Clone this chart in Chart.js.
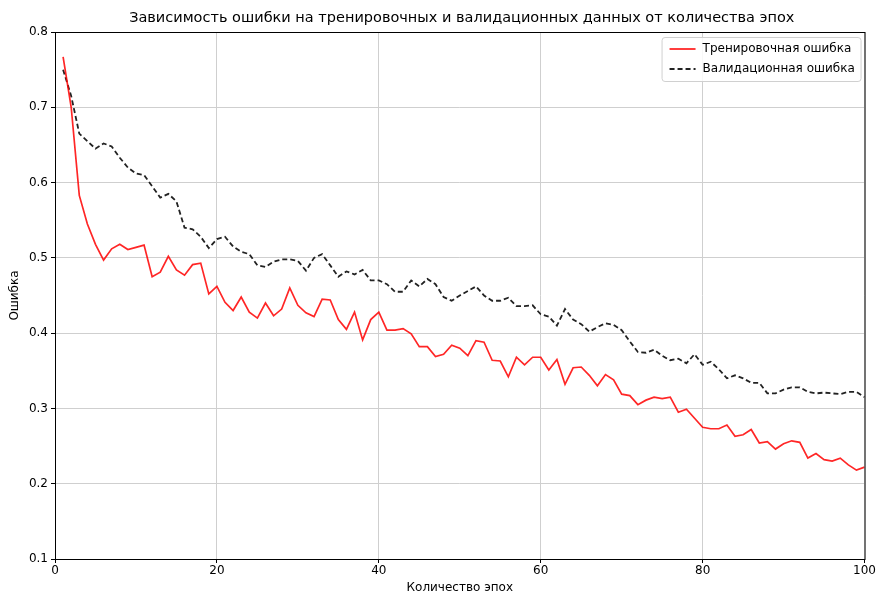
<!DOCTYPE html>
<html>
<head>
<meta charset="utf-8">
<script src="https://cdn.jsdelivr.net/npm/chart.js@4.4.0/dist/chart.umd.min.js"></script>
<style>
  html, body { margin: 0; padding: 0; background: #fff; }
  #wrap { width: 877px; height: 595px; position: relative; }
</style>
</head>
<body>
<div id="wrap"><canvas id="lossChart"></canvas></div>
<script>
// данные
const epochs = [];
for (let i = 1; i <= 100; i++) epochs.push(i);

const trainLoss = [
  0.767, 0.700, 0.583, 0.545, 0.518, 0.497, 0.512, 0.518, 0.511, 0.514,
  0.517, 0.475, 0.481, 0.502, 0.484, 0.477, 0.491, 0.493, 0.452, 0.462,
  0.441, 0.430, 0.448, 0.428, 0.420, 0.440, 0.423, 0.432, 0.460, 0.437,
  0.427, 0.422, 0.445, 0.444, 0.418, 0.405, 0.428, 0.391, 0.418, 0.428,
  0.404, 0.404, 0.406, 0.399, 0.382, 0.382, 0.369, 0.372, 0.384, 0.380,
  0.370, 0.390, 0.388, 0.364, 0.363, 0.342, 0.368, 0.358, 0.368, 0.368,
  0.351, 0.365, 0.332, 0.354, 0.355, 0.344, 0.330, 0.345, 0.338, 0.319,
  0.317, 0.305, 0.311, 0.315, 0.313, 0.315, 0.295, 0.299, 0.287, 0.275,
  0.273, 0.273, 0.278, 0.263, 0.265, 0.272, 0.254, 0.256, 0.246, 0.253,
  0.257, 0.255, 0.234, 0.240, 0.232, 0.230, 0.234, 0.225, 0.218, 0.222
];

const valLoss = [
  0.750, 0.715, 0.665, 0.655, 0.645, 0.652, 0.648, 0.633, 0.620, 0.612,
  0.610, 0.595, 0.580, 0.585, 0.575, 0.540, 0.538, 0.528, 0.513, 0.525,
  0.528, 0.515, 0.508, 0.505, 0.490, 0.488, 0.495, 0.498, 0.498, 0.496,
  0.483, 0.500, 0.505, 0.490, 0.475, 0.482, 0.478, 0.484, 0.470, 0.470,
  0.465, 0.455, 0.455, 0.470, 0.462, 0.472, 0.465, 0.448, 0.443, 0.450,
  0.456, 0.462, 0.450, 0.443, 0.443, 0.447, 0.436, 0.436, 0.437, 0.425,
  0.422, 0.410, 0.432, 0.418, 0.412, 0.402, 0.408, 0.413, 0.411, 0.404,
  0.389, 0.375, 0.374, 0.378, 0.370, 0.364, 0.366, 0.360, 0.372, 0.358,
  0.362, 0.352, 0.340, 0.344, 0.340, 0.334, 0.334, 0.320, 0.320, 0.325,
  0.328, 0.328, 0.322, 0.320, 0.321, 0.320, 0.319, 0.322, 0.322, 0.315
];

const xTicks = [0, 20, 40, 60, 80, 100];
const yTicks = [0.1, 0.2, 0.3, 0.4, 0.5, 0.6, 0.7, 0.8];

const FONT = "'DejaVu Sans', sans-serif";

// рамка вокруг области графика, заголовок и легенда как в matplotlib
const mplPlugin = {
  id: "mplDecor",
  afterDraw(chart) {
    const ctx = chart.ctx;
    const a = chart.chartArea;
    ctx.save();
    ctx.strokeStyle = "#000";
    ctx.lineWidth = 1;
    ctx.strokeRect(a.left + 0.5, a.top + 0.5, a.right - a.left, a.bottom - a.top);

    // заголовок
    ctx.fillStyle = "#000";
    ctx.font = "14.5px " + FONT;
    ctx.textAlign = "center";
    ctx.textBaseline = "middle";
    ctx.fillText("Зависимость ошибки на тренировочных и валидационных данных от количества эпох", (a.left + a.right) / 2 + 2, 18);

    // легенда
    const bx = a.right - 203, by = a.top + 5, bw = 199, bh = 44;
    ctx.fillStyle = "rgba(255,255,255,0.85)";
    ctx.strokeStyle = "#d0d0d0";
    ctx.beginPath();
    ctx.roundRect(bx + 0.5, by + 0.5, bw, bh, 3);
    ctx.fill();
    ctx.stroke();
    ctx.font = "12px " + FONT;
    ctx.textAlign = "left";
    const items = [
      { label: "Тренировочная ошибка", color: "rgba(255,0,0,0.85)", dash: [] },
      { label: "Валидационная ошибка", color: "#222", dash: [5, 3] }
    ];
    items.forEach((it, i) => {
      const y = by + 12 + i * 20;
      ctx.strokeStyle = it.color;
      ctx.lineWidth = 1.8;
      ctx.setLineDash(it.dash);
      ctx.beginPath();
      ctx.moveTo(bx + 8, y);
      ctx.lineTo(bx + 34, y);
      ctx.stroke();
      ctx.setLineDash([]);
      ctx.fillStyle = "#000";
      ctx.fillText(it.label, bx + 41, y);
    });
    ctx.restore();
  }
};

const lossChartConfig = {
  type: "line",
  data: {
    labels: epochs,
    datasets: [
      {
        label: "Тренировочная ошибка",
        data: trainLoss.map((v, i) => ({ x: epochs[i], y: v })),
        borderColor: "rgba(255, 0, 0, 0.85)",
        borderWidth: 1.7,
        pointRadius: 0,
        tension: 0,
        fill: false,
      },
      {
        label: "Валидационная ошибка",
        data: valLoss.map((v, i) => ({ x: epochs[i], y: v })),
        borderColor: "#222",
        borderWidth: 1.8,
        borderDash: [5, 3],
        pointRadius: 0,
        tension: 0,
        fill: false,
      },
    ],
  },
  options: {
    responsive: true,
    maintainAspectRatio: false,
    animation: false,
    layout: {
      padding: { left: 0, right: 11, top: 32, bottom: 0 },
    },
    plugins: {
      legend: { display: false },
      tooltip: { enabled: false },
    },
    scales: {
      x: {
        type: "linear",
        min: 0,
        max: 100,
        afterBuildTicks: (scale) => {
          scale.ticks = xTicks.map((v) => ({ value: v }));
        },
        afterFit: (scale) => {
          scale.height = 36;
        },
        ticks: {
          color: "#000",
          font: { family: FONT, size: 12 },
          padding: 1,
          maxRotation: 0,
        },
        grid: {
          color: "#cfcfcf",
          tickColor: "#000",
          tickLength: 4,
        },
        border: { display: false },
        title: {
          display: true,
          text: "Количество эпох",
          color: "#000",
          font: { family: FONT, size: 12 },
          padding: { top: 0, bottom: 0 },
        },
      },
      y: {
        min: 0.1,
        max: 0.8,
        afterBuildTicks: (scale) => {
          scale.ticks = yTicks.map((v) => ({ value: v }));
        },
        afterFit: (scale) => {
          scale.width = 55;
        },
        ticks: {
          color: "#000",
          font: { family: FONT, size: 12 },
          padding: 3,
          callback: (v) => v.toFixed(1),
        },
        grid: {
          color: "#cfcfcf",
          tickColor: "#000",
          tickLength: 4,
        },
        border: { display: false },
        title: {
          display: true,
          text: "Ошибка",
          color: "#000",
          font: { family: FONT, size: 12 },
          padding: { top: 8, bottom: 0 },
        },
      },
    },
  },
  plugins: [mplPlugin],
};

document.addEventListener("DOMContentLoaded", () => {
  const lossChart = new Chart("lossChart", lossChartConfig);
});
</script>
</body>
</html>
